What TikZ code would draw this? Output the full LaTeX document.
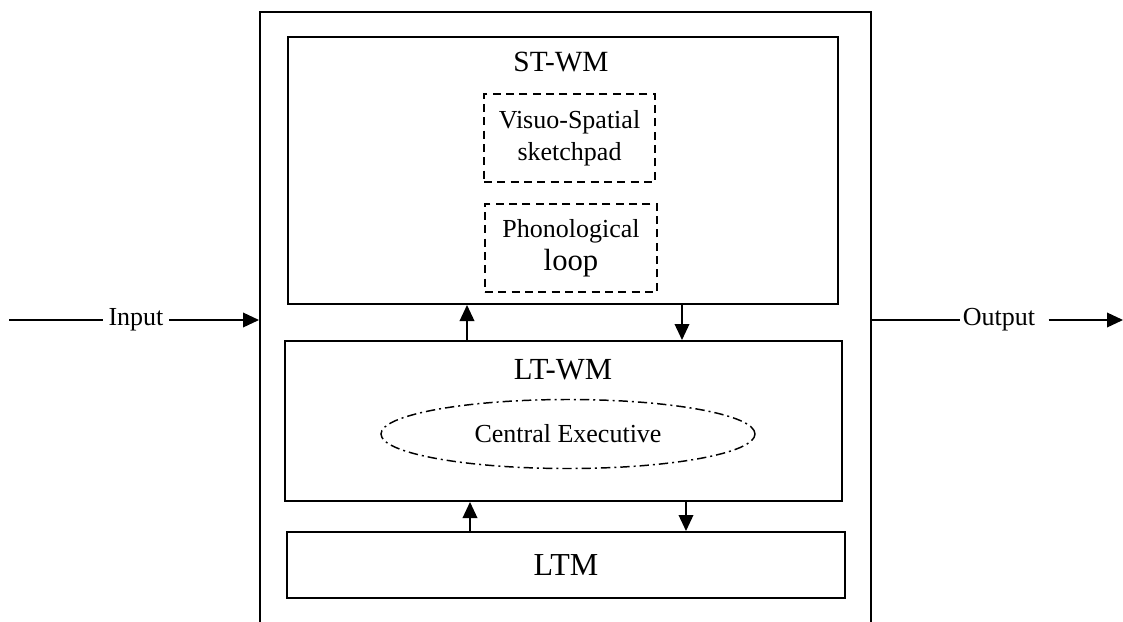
\documentclass[tikz,border=0pt]{standalone}
\usepackage{fontspec}
\setmainfont{Liberation Serif}
\usetikzlibrary{arrows.meta,positioning,shapes.geometric}

\begin{document}
\begin{tikzpicture}[
    x=0.75pt, y=-0.75pt,
    font=\fontsize{19.5}{24}\selectfont,
    box/.style={draw, line width=1.5pt, inner sep=0pt},
    dbox/.style={draw, line width=1.1pt, dash pattern=on 6pt off 4pt,
                 inner sep=0pt, align=center},
    title/.style={inner sep=0pt},
    arr/.style={-{Triangle[length=12pt,width=11pt]}, line width=1.1pt}
  ]
  \useasboundingbox (0,0) rectangle (1123,621);
  % outer frame runs off the bottom of the page
  \node[box, minimum width=458.25pt, minimum height=471pt] (outer) at (565.5,326) {};
  \node[box, minimum width=412.5pt, minimum height=200.25pt] (stwm) at (563,170.5) {};
  \node[box, minimum width=417.75pt, minimum height=120pt] (ltwm) at (563.5,421) {};
  \node[box, minimum width=418.5pt, minimum height=49.5pt] (ltm) at (566,565) {};
  \node[title, font=\fontsize{22}{26}\selectfont] (stwmlab) at (561,62) {ST-WM};
  \node[title, font=\fontsize{23}{27}\selectfont] (ltwmlab) at (563,370) {LT-WM};
  \node[title, font=\fontsize{24}{28}\selectfont] (ltmlab) at (566,565) {LTM};
  \node[dbox, minimum width=128.25pt, minimum height=66pt] (vssp) at (569.5,138)
    {Visuo-Spatial\\sketchpad};
  \node[dbox, minimum width=129pt, minimum height=66pt] (phon) at (571,248)
    {Phonological\\[1pt]{\fontsize{23}{27}\selectfont loop}};
  \node[ellipse, draw, line width=1.1pt, inner sep=0pt,
        dash pattern=on 7pt off 3pt on 1.5pt off 3pt,
        minimum width=280.5pt, minimum height=51.75pt] (ce) at (568,434)
    {Central Executive};

  % input / output
  \node[inner sep=4pt] (inlab) at (136,320) {Input};
  \node[inner sep=2pt] (outlab) at (999,320) {Output};
  \coordinate (inleft) at (9,320);
  \coordinate (outright) at (1123,320);
  \draw[line width=1.1pt] (inleft) -- (inlab);
  \draw[arr] (inlab) -- (inlab -| outer.west);
  \draw[line width=1.1pt] (outlab -| outer.east) -- (outlab);
  \draw[arr, shorten <=8pt] (outlab) -- (outright);

  % links between the stores
  \coordinate (up1) at (467,0);
  \coordinate (dn1) at (682,0);
  \coordinate (up2) at (470,0);
  \coordinate (dn2) at (686,0);
  \draw[arr] (up1 |- ltwm.north) -- (up1 |- stwm.south);
  \draw[arr] (dn1 |- stwm.south) -- (dn1 |- ltwm.north);
  \draw[arr] (up2 |- ltm.north) -- (up2 |- ltwm.south);
  \draw[arr] (dn2 |- ltwm.south) -- (dn2 |- ltm.north);
\end{tikzpicture}
\end{document}
